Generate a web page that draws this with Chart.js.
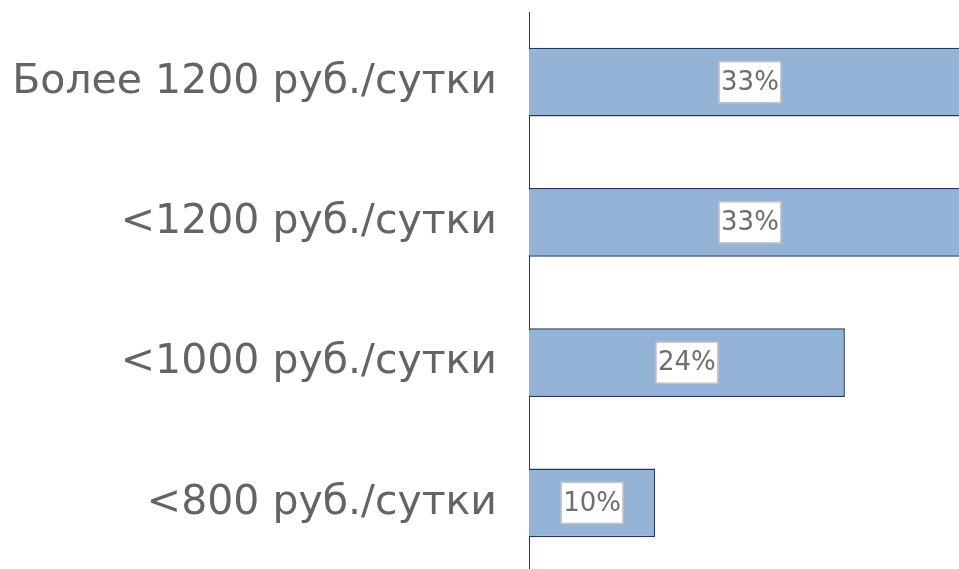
<!DOCTYPE html>
<html>
<head>
<meta charset="utf-8">
<script src="https://cdn.jsdelivr.net/npm/chart.js@4/dist/chart.umd.min.js"></script>
<style>
  html, body { margin: 0; padding: 0; background: #fff; overflow: hidden; }
  #wrap { width: 959px; height: 573px; }
</style>
</head>
<body>
<div id="wrap"><canvas id="chart" width="959" height="573"></canvas></div>
<script>
// categories, top to bottom
var categories = [
  "Более 1200 руб./сутки",
  "<1200 руб./сутки",
  "<1000 руб./сутки",
  "<800 руб./сутки"
];
// share of answers, %
var shares = [33.3, 33.3, 23.8, 9.5];
// x axis range (the two top bars run past the right edge)
var xMin = 0;
var xMax = 32.4;

var textColor = "#646464";
var navy = "#1f3a5c";

// draws the value in a small white box in the middle of each bar
var boxLabels = {
  id: "boxLabels",
  afterDatasetsDraw: function(chart) {
    var ctx = chart.ctx;
    var meta = chart.getDatasetMeta(0);
    ctx.save();
    ctx.font = "26px 'DejaVu Sans'";
    ctx.textAlign = "center";
    ctx.textBaseline = "middle";
    meta.data.forEach(function(bar, i) {
      var txt = Math.round(shares[i]) + "%";
      var cx = (bar.x + bar.base) / 2;
      var cy = bar.y;
      var w = ctx.measureText(txt).width + 4;
      var h = 41;
      ctx.fillStyle = "#fff";
      ctx.fillRect(cx - w / 2, cy - h / 2, w, h);
      ctx.strokeStyle = "#c4c4c4";
      ctx.lineWidth = 1.5;
      ctx.strokeRect(cx - w / 2, cy - h / 2, w, h);
      ctx.fillStyle = "#6e6e6e";
      ctx.fillText(txt, cx, cy + 1);
    });
    ctx.restore();
  }
};

new Chart(document.getElementById("chart"), {
  type: "bar",
  data: {
    labels: categories,
    datasets: [{
      data: shares,
      backgroundColor: "#95b3d7",
      borderColor: navy,
      borderWidth: 1.5,
      categoryPercentage: 1,
      barPercentage: 0.49
    }]
  },
  options: {
    indexAxis: "y",
    responsive: false,
    animation: false,
    events: [],
    layout: { padding: { top: 12, right: 0, bottom: 0, left: 0 } },
    plugins: {
      legend: { display: false },
      tooltip: { enabled: false }
    },
    scales: {
      x: {
        min: xMin,
        max: xMax,
        display: false
      },
      y: {
        grid: { display: false, drawTicks: false },
        border: { display: true, color: navy, width: 1 },
        ticks: {
          color: textColor,
          padding: 32,
          font: { family: "'DejaVu Sans'", size: 41 }
        },
        afterFit: function(scale) {
          scale.width = 529;
          scale.paddingTop = 0;
          scale.paddingBottom = 0;
        }
      }
    }
  },
  plugins: [boxLabels]
});
</script>
</body>
</html>
